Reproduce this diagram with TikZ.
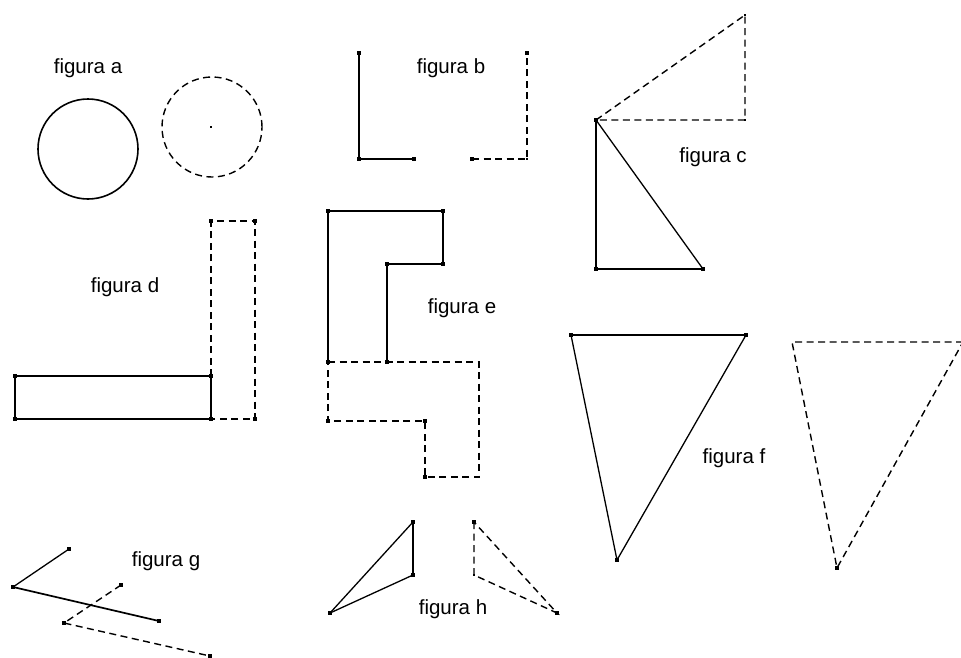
\documentclass[tikz,border=0pt]{standalone}
\usepackage{fontspec}
\setmainfont{Liberation Sans}
\begin{document}
\begin{tikzpicture}[x=1pt,y=-1pt,
  dot/.style={draw=none,fill=black,rectangle,minimum size=4.5pt,inner sep=0pt,outer sep=0pt},
  tdot/.style={draw=none,fill=black,rectangle,minimum size=2pt,inner sep=0pt,outer sep=0pt},
  pt/.style={inner sep=0pt,outer sep=0pt,minimum size=0pt},
  solidl/.style={line width=1.7pt,line join=miter},
  thinl/.style={line width=1.3pt},
  dashl/.style={line width=1.4pt,dash pattern=on 7pt off 4.5pt},
  lab/.style={font=\fontsize{20.5}{22}\selectfont,inner sep=0pt}]
\useasboundingbox[fill=white] (0,0) rectangle (961,657);
% figura a
\node[lab] (la) at (88,68) {figura a};
\node[pt,circle,draw,line width=1.6pt,minimum size=100pt] (ca) at (88,149) {};
\node[pt,circle,draw,dashl,minimum size=100pt] (cb) at (212,127) {};
\node[tdot,minimum size=1.8pt] (cbc) at (211,127) {};
% figura b
\node[lab] (lb) at (451,68) {figura b};
\node[dot] (b1) at (359,53) {};
\node[dot] (b2) at (359,159) {};
\node[dot] (b3) at (414,159) {};
\node[dot] (b4) at (472,159) {};
\node[tdot] (b5) at (527,159) {};
\node[dot] (b6) at (527,53) {};
\draw[solidl] (b1.center) -- (b2.center) -- (b3.center);
\draw[dashl] (b4.center) -- (b5.center) -- (b6.center);
% figura c
\node[lab] (lc) at (713,157) {figura c};
\node[dot] (c1) at (596,120) {};
\node[tdot] (c2) at (745,15) {};
\node[tdot] (c3) at (745,120) {};
\node[dot] (c4) at (596,269) {};
\node[dot] (c5) at (703,269) {};
\draw[dashl] (c1.center) -- (c2.center) -- (c3.center) -- (c1.center);
\draw[solidl] (c1.center) -- (c4.center) -- (c5.center);
\draw[thinl] (c5.center) -- (c1.center);
% figura d
\node[lab] (ld) at (125,287) {figura d};
\node[dot] (d1) at (15,376) {};
\node[dot] (d2) at (211,376) {};
\node[dot] (d3) at (211,419) {};
\node[dot] (d4) at (15,419) {};
\node[dot] (d5) at (211,221) {};
\node[dot] (d6) at (255,221) {};
\node[dot] (d7) at (255,419) {};
\draw[solidl] (d1.center) -- (d2.center) -- (d3.center) -- (d4.center) -- cycle;
\draw[dashl] (d2.center) -- (d5.center) -- (d6.center) -- (d7.center) -- (d3.center);
% figura e
\node[lab] (le) at (462,308) {figura e};
\node[dot] (e1) at (328,211) {};
\node[dot] (e2) at (443,211) {};
\node[dot] (e3) at (443,264) {};
\node[dot] (e4) at (387,264) {};
\node[dot] (e5) at (387,362) {};
\node[dot] (e6) at (328,362) {};
\node[tdot] (e7) at (479,362) {};
\node[tdot] (e8) at (479,477) {};
\node[dot] (e9) at (425,477) {};
\node[dot] (e10) at (425,421) {};
\node[dot] (e11) at (328,421) {};
\draw[solidl] (e6.center) -- (e1.center) -- (e2.center) -- (e3.center) -- (e4.center) -- (e5.center);
\draw[dashl] (e6.center) -- (e7.center) -- (e8.center) -- (e9.center) -- (e10.center) -- (e11.center) -- (e6.center);
% figura f
\node[lab] (lf) at (734,458) {figura f};
\node[dot] (f1) at (571,335) {};
\node[dot] (f2) at (746,335) {};
\node[dot] (f3) at (617,560) {};
\node[pt] (f4) at (792,342) {};
\node[pt] (f5) at (963,342) {};
\node[dot] (f6) at (837,568) {};
\draw[solidl] (f1.center) -- (f2.center);
\draw[thinl] (f2.center) -- (f3.center) -- (f1.center);
\draw[dashl] (f5.center) -- (f4.center) -- (f6.center) -- (f5.center);
% figura g
\node[lab] (lg) at (166,561) {figura g};
\node[dot] (g1) at (13,587) {};
\node[dot] (g2) at (69,549) {};
\node[dot] (g3) at (159,621) {};
\node[dot] (g4) at (121,585) {};
\node[dot] (g5) at (64,623) {};
\node[dot] (g6) at (210,656) {};
\draw[thinl] (g2.center) -- (g1.center);
\draw[solidl] (g1.center) -- (g3.center);
\draw[dashl] (g4.center) -- (g5.center) -- (g6.center);
% figura h
\node[lab] (lh) at (453,609) {figura h};
\node[dot] (h1) at (330,613) {};
\node[dot] (h2) at (413,522) {};
\node[dot] (h3) at (413,575) {};
\node[dot] (h4) at (474,522) {};
\node[tdot] (h5) at (474,575) {};
\node[dot] (h6) at (557,613) {};
\draw[thinl] (h1.center) -- (h2.center);
\draw[solidl] (h2.center) -- (h3.center);
\draw[thinl] (h3.center) -- (h1.center);
\draw[dashl] (h4.center) -- (h5.center) -- (h6.center) -- (h4.center);
\end{tikzpicture}
\end{document}
